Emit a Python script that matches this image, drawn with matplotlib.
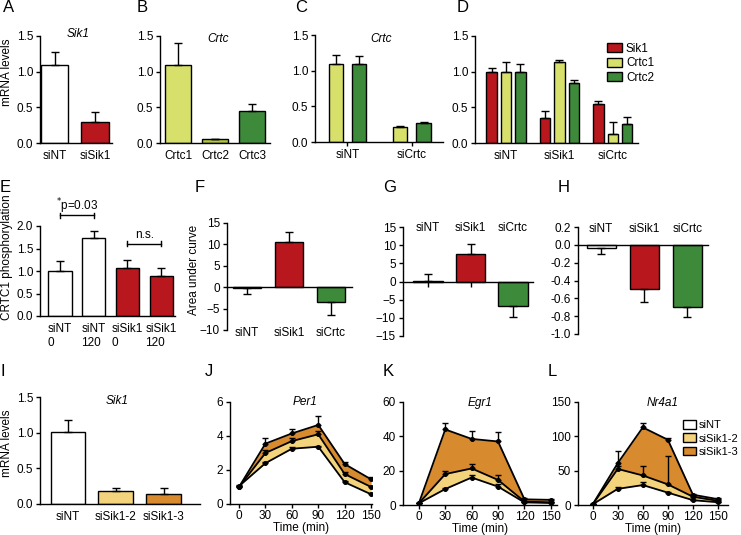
import matplotlib
matplotlib.use("Agg")
import matplotlib.pyplot as plt
from matplotlib.patches import Patch
from matplotlib.ticker import FormatStrFormatter

plt.rcParams['font.family'] = ['Liberation Sans', 'DejaVu Sans']
plt.rcParams['font.size'] = 8.5

# colours
WHITE = '#ffffff'
RED = '#b8171e'
YGREEN = '#d6e06b'
OLIVE = '#b5c640'
GREEN = '#3d8a3a'
GOLD = '#f3d37c'
ORANGE = '#d88a2e'

# ---- data ----
# A
a_labels = ['siNT', 'siSik1']
a_vals = [1.1, 0.3]
a_err = [0.18, 0.14]
# B
b_labels = ['Crtc1', 'Crtc2', 'Crtc3']
b_vals = [1.1, 0.05, 0.45]
b_err = [0.3, 0.01, 0.09]
# C
c_groups = ['siNT', 'siCrtc']
c_crtc1 = [1.09, 0.21]
c_crtc1_err = [0.13, 0.01]
c_crtc2 = [1.09, 0.27]
c_crtc2_err = [0.12, 0.01]
# D
d_groups = ['siNT', 'siSik1', 'siCrtc']
d_sik1 = [1.0, 0.35, 0.54]
d_sik1_err = [0.05, 0.10, 0.05]
d_crtc1 = [1.0, 1.14, 0.12]
d_crtc1_err = [0.14, 0.03, 0.17]
d_crtc2 = [1.0, 0.84, 0.26]
d_crtc2_err = [0.11, 0.05, 0.10]
# E
e_labels = ['siNT\n0', 'siNT\n120', 'siSik1\n0', 'siSik1\n120']
e_vals = [1.0, 1.73, 1.06, 0.89]
e_err = [0.22, 0.16, 0.18, 0.17]
# F, G, H
grp3 = ['siNT', 'siSik1', 'siCrtc']
f_vals = [-0.3, 10.6, -3.4]
f_err = [1.2, 2.4, 3.1]
g_vals = [0.1, 7.5, -6.8]
g_err = [2.1, 2.9, 3.0]
h_vals = [-0.04, -0.49, -0.70]
h_err = [0.06, 0.15, 0.11]
# I
i_labels = ['siNT', 'siSik1-2', 'siSik1-3']
i_vals = [1.01, 0.18, 0.14]
i_err = [0.17, 0.05, 0.09]
# J, K, L time courses
time = [0, 30, 60, 90, 120, 150]
per1_nt = [1.05, 2.4, 3.25, 3.37, 1.28, 0.57]
per1_nt_err = [0.05, 0.05, 0.08, 0.05, 0.05, 0.05]
per1_s2 = [1.0, 3.0, 3.7, 4.1, 1.76, 1.0]
per1_s2_err = [0.05, 0.2, 0.2, 0.2, 0.15, 0.05]
per1_s3 = [1.0, 3.55, 4.15, 4.65, 2.35, 1.45]
per1_s3_err = [0.05, 0.35, 0.25, 0.55, 0.15, 0.15]
egr1_nt = [1, 9.3, 16, 10.7, 1.5, 1.2]
egr1_nt_err = [0.3, 0.8, 1.2, 1.5, 0.3, 0.3]
egr1_s2 = [1, 18, 21.3, 14.6, 2, 1.5]
egr1_s2_err = [0.3, 2, 2.3, 3, 0.3, 0.3]
egr1_s3 = [1, 44, 38.5, 37, 3.3, 3]
egr1_s3_err = [0.3, 3.5, 4.5, 5.5, 0.5, 0.5]
nr4a1_nt = [1, 23.5, 29, 18, 7, 4]
nr4a1_nt_err = [0.5, 3, 5, 1.5, 1, 0.5]
nr4a1_s2 = [1, 52.5, 43, 30, 12, 6]
nr4a1_s2_err = [0.5, 4, 14, 42, 1.5, 1]
nr4a1_s3 = [1, 61, 113, 95, 15, 8.5]
nr4a1_s3_err = [0.5, 17, 7, 2, 1.5, 1]

W, H = 741, 535
fig = plt.figure(figsize=(W / 100, H / 100), dpi=100)


def add_ax(l, t, r, b):
    ax = fig.add_axes([l / W, 1 - b / H, (r - l) / W, (b - t) / H])
    ax.spines['top'].set_visible(False)
    ax.spines['right'].set_visible(False)
    ax.spines['left'].set_linewidth(1.0)
    ax.spines['bottom'].set_linewidth(1.0)
    ax.tick_params(direction='out', length=3, width=1.0, labelsize=8.5, pad=2)
    ax.patch.set_visible(False)
    return ax


def bars(ax, x, vals, err, colors, width):
    ax.bar(x, vals, width=width, color=colors, edgecolor='black', linewidth=1.0, zorder=2)
    lower = [e if v < 0 else 0 for v, e in zip(vals, err)]
    upper = [0 if v < 0 else e for v, e in zip(vals, err)]
    ax.errorbar(x, vals, yerr=[lower, upper], fmt='none', ecolor='black',
                elinewidth=1.0, capsize=3, capthick=1.0, zorder=3)


def letter(x, y, s):
    fig.text(x / W, 1 - y / H, s, fontsize=12, ha='left', va='center')


def ylab(x, y, s):
    fig.text(x / W, 1 - y / H, s, fontsize=8.5, rotation=90, ha='center', va='center')


# ---- A ----
ax = add_ax(40, 36, 112, 143)
bars(ax, [0, 1], a_vals, a_err, [WHITE, RED], 0.67)
ax.set_xlim(-0.36, 1.42)
ax.set_ylim(0, 1.5)
ax.set_yticks([0, 0.5, 1.0, 1.5])
ax.yaxis.set_major_formatter(FormatStrFormatter('%.1f'))
ax.set_xticks([0, 1], a_labels)
ax.tick_params(axis='x', length=0, pad=5)
ax.text(0.58, 1.53, 'Sik1', style='italic', ha='center', va='center')
letter(3, 8, 'A')
ylab(7, 72, 'mRNA levels')

# ---- B ----
ax = add_ax(160, 36, 270, 143)
bars(ax, [0, 1, 2], b_vals, b_err, [YGREEN, OLIVE, GREEN], 0.7)
ax.set_xlim(-0.49, 2.49)
ax.set_ylim(0, 1.5)
ax.set_yticks([0, 0.5, 1.0, 1.5])
ax.yaxis.set_major_formatter(FormatStrFormatter('%.1f'))
ax.set_xticks([0, 1, 2], b_labels)
ax.tick_params(axis='x', length=0, pad=5)
ax.text(1.08, 1.46, 'Crtc', style='italic', ha='center', va='center')
letter(137, 8, 'B')

# ---- C ----
ax = add_ax(315, 35, 443, 142)
xc = [0, 1]
bars(ax, [v - 0.18 for v in xc], c_crtc1, c_crtc1_err, YGREEN, 0.22)
bars(ax, [v + 0.18 for v in xc], c_crtc2, c_crtc2_err, GREEN, 0.22)
ax.set_xlim(-0.5, 1.48)
ax.set_ylim(0, 1.5)
ax.set_yticks([0, 0.5, 1.0, 1.5])
ax.yaxis.set_major_formatter(FormatStrFormatter('%.1f'))
ax.set_xticks(xc, c_groups)
ax.tick_params(axis='x', length=3, pad=2)
ax.text(0.53, 1.45, 'Crtc', style='italic', ha='center', va='center')
letter(295, 8, 'C')

# ---- D ----
ax = add_ax(475, 36, 638, 143)
xd = [0, 1, 2]
bars(ax, [v - 0.27 for v in xd], d_sik1, d_sik1_err, RED, 0.19)
bars(ax, xd, d_crtc1, d_crtc1_err, YGREEN, 0.19)
bars(ax, [v + 0.27 for v in xd], d_crtc2, d_crtc2_err, GREEN, 0.19)
ax.set_xlim(-0.58, 2.47)
ax.set_ylim(0, 1.5)
ax.set_yticks([0, 0.5, 1.0, 1.5])
ax.yaxis.set_major_formatter(FormatStrFormatter('%.1f'))
ax.set_xticks(xd, d_groups)
ax.tick_params(axis='x', length=0, pad=5)
letter(457, 8, 'D')
handles = [Patch(facecolor=c, edgecolor='black', linewidth=1.0) for c in (RED, YGREEN, GREEN)]
fig.legend(handles, ['Sik1', 'Crtc1', 'Crtc2'], loc='upper left',
           bbox_to_anchor=(607 / W, 1 - 43 / H), frameon=False, fontsize=8.5,
           handlelength=1.3, handleheight=0.8, handletextpad=0.3,
           labelspacing=0.2, borderpad=0, borderaxespad=0)

# ---- E ----
ax = add_ax(40, 226, 175, 316)
bars(ax, [0, 1, 2, 3], e_vals, e_err, [WHITE, WHITE, RED, RED], 0.69)
ax.set_xlim(-0.59, 3.41)
ax.set_ylim(0, 2.0)
ax.set_yticks([0, 0.5, 1.0, 1.5, 2.0])
ax.yaxis.set_major_formatter(FormatStrFormatter('%.1f'))
ax.set_xticks([0, 1, 2, 3], e_labels)
ax.tick_params(axis='x', length=0, pad=5)
for lab in ax.get_xticklabels():
    lab.set_multialignment('left')
for x0, x1, yb in [(0, 1, 2.24), (2, 3, 1.61)]:
    ax.plot([x0, x1], [yb, yb], color='black', lw=1.0, clip_on=False)
    ax.plot([x0, x0], [yb - 0.06, yb + 0.06], color='black', lw=1.0, clip_on=False)
    ax.plot([x1, x1], [yb - 0.06, yb + 0.06], color='black', lw=1.0, clip_on=False)
ax.text(0.5, 2.44, r'$^{*}$p=0.03', ha='center', va='center')
ax.text(2.5, 1.8, 'n.s.', ha='center', va='center')
letter(0, 187, 'E')
ylab(7, 257, 'CRTC1 phosphorylation')

# ---- F ----
ax = add_ax(227, 223, 352, 330)
bars(ax, [0, 1, 2], f_vals, f_err, [WHITE, RED, GREEN], 0.67)
ax.set_xlim(-0.48, 2.5)
ax.set_ylim(-10, 15)
ax.set_yticks([-10, -5, 0, 5, 10, 15])
ax.spines['bottom'].set_position(('data', 0))
ax.set_xticks([])
for x, lab in zip([0, 1, 2], grp3):
    ax.text(x, -10.6, lab, ha='center', va='center')
letter(195, 187, 'F')
ylab(194, 270, 'Area under curve')

# ---- G ----
ax = add_ax(403, 227, 533, 336)
bars(ax, [0, 1, 2], g_vals, g_err, [WHITE, RED, GREEN], 0.7)
ax.set_xlim(-0.59, 2.47)
ax.set_ylim(-15, 15)
ax.set_yticks([-15, -10, -5, 0, 5, 10, 15])
ax.spines['bottom'].set_position(('data', 0))
ax.set_xticks([0, 1, 2])
ax.tick_params(axis='x', length=3.5, labelbottom=False)
for x, lab in zip([0, 1, 2], grp3):
    ax.text(x, 14.8, lab, ha='center', va='center')
letter(383, 188, 'G')

# ---- H ----
ax = add_ax(578, 227, 708, 334)
bars(ax, [0, 1, 2], h_vals, h_err, [WHITE, RED, GREEN], 0.68)
ax.set_xlim(-0.54, 2.48)
ax.set_ylim(-1.0, 0.2)
ax.set_yticks([-1.0, -0.8, -0.6, -0.4, -0.2, 0.0, 0.2])
ax.yaxis.set_major_formatter(FormatStrFormatter('%.1f'))
ax.spines['bottom'].set_position(('data', 0))
ax.set_xticks([])
for x, lab in zip([0, 1, 2], grp3):
    ax.text(x, 0.18, lab, ha='center', va='center')
letter(558, 188, 'H')

# ---- I ----
ax = add_ax(40, 397, 200, 504)
bars(ax, [0, 1, 2], i_vals, i_err, [WHITE, GOLD, ORANGE], 0.72)
ax.set_xlim(-0.58, 2.76)
ax.set_ylim(0, 1.5)
ax.set_yticks([0, 0.5, 1.0, 1.5])
ax.yaxis.set_major_formatter(FormatStrFormatter('%.1f'))
ax.set_xticks([0, 1, 2], i_labels)
ax.tick_params(axis='x', length=0, pad=5)
ax.text(1.03, 1.44, 'Sik1', style='italic', ha='center', va='center')
letter(1, 372, 'I')
ylab(7, 443, 'mRNA levels')


# ---- J, K, L ----
def timecourse(ax, nt, nt_e, s2, s2_e, s3, s3_e):
    ax.fill_between(time, nt, s2, color=GOLD, lw=0, zorder=1)
    ax.fill_between(time, s2, s3, color=ORANGE, lw=0, zorder=1)
    for y, e in [(nt, nt_e), (s2, s2_e), (s3, s3_e)]:
        ax.errorbar(time, y, yerr=[[0] * len(e), e], fmt='none', ecolor='black',
                    elinewidth=1.0, capsize=2.5, capthick=1.0, zorder=3)
        ax.plot(time, y, color='black', lw=1.3, marker='o', ms=2.6, zorder=4)
    ax.set_xticks(time)
    ax.tick_params(axis='x', pad=1)
    ax.set_xlabel('Time (min)', fontsize=8.5, labelpad=0.5)


ax = add_ax(230, 402, 372, 504)
timecourse(ax, per1_nt, per1_nt_err, per1_s2, per1_s2_err, per1_s3, per1_s3_err)
ax.set_xlim(-10.2, 151)
ax.set_ylim(0, 6)
ax.set_yticks([0, 2, 4, 6])
ax.text(75, 6.0, 'Per1', style='italic', ha='center', va='center')
letter(205, 372, 'J')

ax = add_ax(403, 402, 557, 505)
timecourse(ax, egr1_nt, egr1_nt_err, egr1_s2, egr1_s2_err, egr1_s3, egr1_s3_err)
ax.set_xlim(-18, 157)
ax.set_ylim(0, 60)
ax.set_yticks([0, 20, 40, 60])
ax.text(70, 59.5, 'Egr1', style='italic', ha='center', va='center')
letter(383, 372, 'K')

ax = add_ax(578, 402, 728, 505)
timecourse(ax, nr4a1_nt, nr4a1_nt_err, nr4a1_s2, nr4a1_s2_err, nr4a1_s3, nr4a1_s3_err)
ax.set_xlim(-17.6, 162)
ax.set_ylim(0, 150)
ax.set_yticks([0, 50, 100, 150])
ax.text(84, 149, 'Nr4a1', style='italic', ha='center', va='center')
letter(548, 372, 'L')
handles = [Patch(facecolor=c, edgecolor='black', linewidth=1.0) for c in (WHITE, GOLD, ORANGE)]
fig.legend(handles, ['siNT', 'siSik1-2', 'siSik1-3'], loc='upper left',
           bbox_to_anchor=(683 / W, 1 - 420 / H), frameon=False, fontsize=8,
           handlelength=1.2, handleheight=0.8, handletextpad=0.25,
           labelspacing=0.3, borderpad=0, borderaxespad=0)

fig.savefig('out.png', dpi=100)
